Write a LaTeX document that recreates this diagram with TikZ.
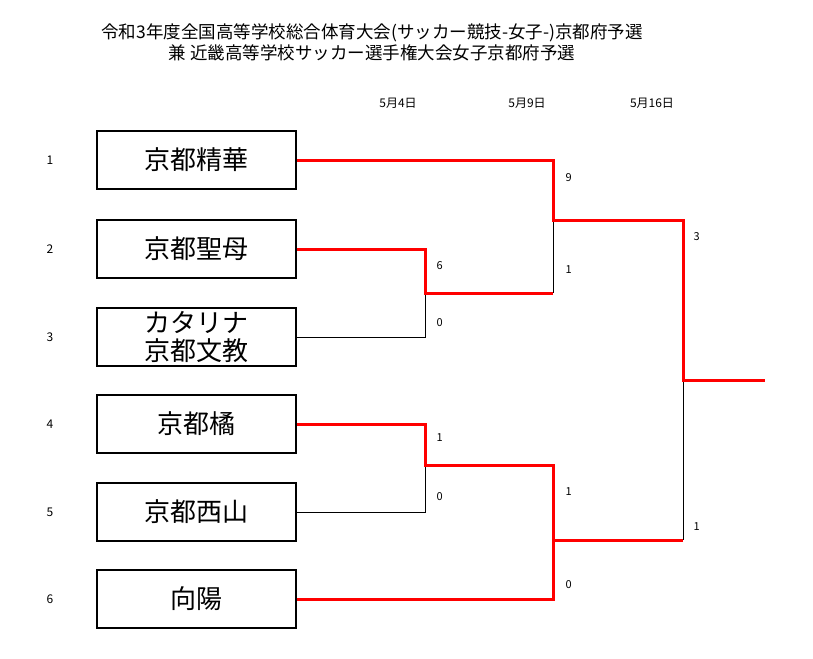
\documentclass[tikz,border=0pt]{standalone}
\usepackage{fontspec}
\setmainfont{Noto Sans CJK JP}
\begin{document}
\begin{tikzpicture}[x=1pt,y=-1pt,
  team/.style={draw,line width=1.2pt,minimum width=199pt,minimum height=58pt,inner sep=0pt,font=\fontsize{26}{28}\selectfont,align=center},
  win/.style={red,line width=3pt},
  lose/.style={black,line width=0.9pt},
  sc/.style={font=\fontsize{11}{12}\selectfont,anchor=west},
  num/.style={font=\fontsize{12}{13}\selectfont},
  dt/.style={font=\fontsize{12}{13}\selectfont}]
\useasboundingbox (0,0) rectangle (813,658);
\node[font=\fontsize{17.5}{19}\selectfont] (t1) at (372,33) {令和3年度全国高等学校総合体育大会(サッカー競技-女子-)京都府予選};
\node[font=\fontsize{17.5}{19}\selectfont] (t2) at (372,53) {兼 近畿高等学校サッカー選手権大会女子京都府予選};
\node[dt] (d1) at (398,103) {5月4日};
\node[dt] (d2) at (527,103) {5月9日};
\node[dt] (d3) at (652,103) {5月16日};
\foreach \i/\y/\t in {1/160/京都精華,2/249/京都聖母,3/337/{カタリナ\\京都文教},4/424/京都橘,5/512/京都西山,6/599/向陽}{
  \node[num] (n\i) at (50,\y) {\i};
  \node[team] (b\i) at (196.5,\y) {\t};
}
\coordinate (a23) at (425,293);
\coordinate (a45) at (425,465);
\coordinate (s1) at (553,220);
\coordinate (s2) at (553,540);
\coordinate (f) at (683,380);
\coordinate (w) at (765,380);
\draw[lose] (b3.east) -| (a23);
\draw[lose] (b5.east) -| (a45);
\draw[lose] (s1) -- (553,293);
\draw[lose] (f) -- (683,540);
\draw[win] (b2.east) -| (a23) -- (553,293);
\draw[win] (b1.east) -| (s1) -- (683,220) -- (f) -- (w);
\draw[win] (b4.east) -| (a45) -| (s2) -- (683,540);
\draw[win] (b6.east) -| (s2);
\node[sc] at (433,266) {6};
\node[sc] at (433,323) {0};
\node[sc] at (433,438) {1};
\node[sc] at (433,497) {0};
\node[sc] at (562,178) {9};
\node[sc] at (562,270) {1};
\node[sc] at (562,492) {1};
\node[sc] at (562,585) {0};
\node[sc] at (690,237) {3};
\node[sc] at (690,527) {1};
\end{tikzpicture}
\end{document}
